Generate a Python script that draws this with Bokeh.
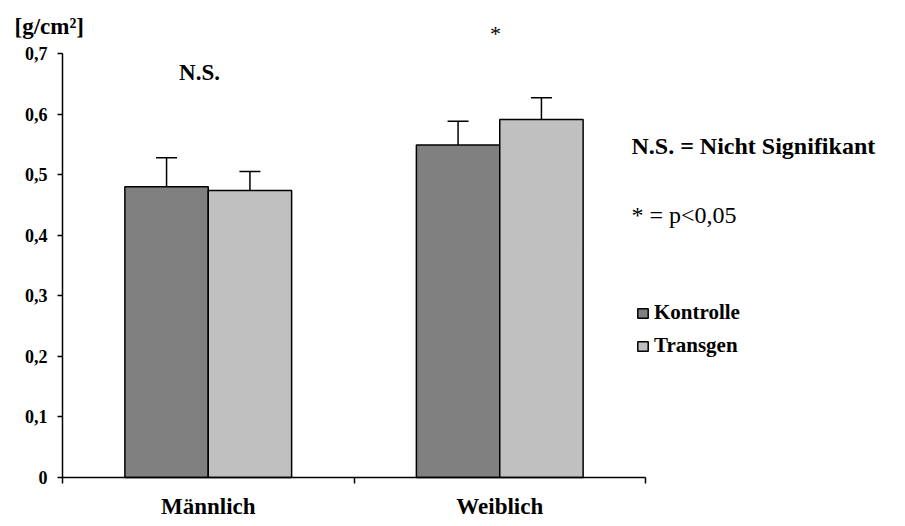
import numpy as np
from bokeh.plotting import figure
from bokeh.models import (ColumnDataSource, Range1d, FixedTicker, Whisker, TeeHead,
                          Label, Legend, LegendItem)
from bokeh.embed import file_html
from bokeh.resources import INLINE

# ---- data ----
categories = ["Männlich", "Weiblich"]
series_names = ["Kontrolle", "Transgen"]
kontrolle = [0.480, 0.549]
transgen = [0.474, 0.591]
kontrolle_err = [0.048, 0.039]
transgen_err = [0.031, 0.036]
y_ticks = [0, 0.1, 0.2, 0.3, 0.4, 0.5, 0.6, 0.7]
y_tick_labels = ["0", "0,1", "0,2", "0,3", "0,4", "0,5", "0,6", "0,7"]
group_marks = ["N.S.", "*"]

FONT = "Liberation Serif"
W, H = 900, 524
LEFT = 62        # pixel position of the value axis
AXIS_Y = 477     # pixel position of the category axis
PX_X = 291.5     # pixels per category unit
PX_Y = 605.7     # pixels per value unit

x_start = -0.5 - LEFT / PX_X
x_end = -0.5 + (W - LEFT) / PX_X
y_start = -(H - AXIS_Y) / PX_Y
y_end = AXIS_Y / PX_Y

p = figure(width=W, height=H, output_backend="svg", toolbar_location=None,
           x_range=Range1d(x_start, x_end), y_range=Range1d(y_start, y_end),
           min_border_left=0, min_border_right=0, min_border_top=0,
           min_border_bottom=0)
p.outline_line_color = None
p.xgrid.visible = False
p.ygrid.visible = False
p.background_fill_color = "white"
p.border_fill_color = "white"

xs = np.arange(len(categories))
bw = 0.286
off = 0.143
src = ColumnDataSource(dict(
    xk=xs - off, xt=xs + off,
    k=kontrolle, t=transgen,
    ku=np.array(kontrolle) + np.array(kontrolle_err),
    tu=np.array(transgen) + np.array(transgen_err),
))

rk = p.vbar(x="xk", top="k", bottom=0, width=bw, source=src,
            fill_color="#808080", line_color="black", line_width=1.5)
rt = p.vbar(x="xt", top="t", bottom=0, width=bw, source=src,
            fill_color="#c0c0c0", line_color="black", line_width=1.5)

for base, lo, up in (("xk", "k", "ku"), ("xt", "t", "tu")):
    w = Whisker(base=base, lower=lo, upper=up, source=src, line_color="black",
                line_width=1.5, lower_head=None,
                upper_head=TeeHead(size=21, line_color="black", line_width=1.5))
    p.add_layout(w)

# axes
ya = p.yaxis[0]
ya.fixed_location = -0.5
ya.bounds = (0, 0.7)
ya.ticker = FixedTicker(ticks=y_ticks, minor_ticks=[])
ya.major_label_overrides = {t: l for t, l in zip(y_ticks, y_tick_labels)}
ya.major_tick_out = 5
ya.major_tick_in = 0
ya.minor_tick_line_color = None
ya.axis_line_width = 1.5
ya.major_tick_line_width = 1.5
ya.major_label_text_font = FONT
ya.major_label_text_font_style = "bold"
ya.major_label_text_font_size = "18px"
ya.major_label_standoff = 10
ya.major_label_text_color = "black"

xa = p.xaxis[0]
xa.fixed_location = 0
xa.bounds = (-0.5, 1.5)
xa.ticker = FixedTicker(ticks=list(xs), minor_ticks=[-0.5, 0.5, 1.5])
xa.major_label_overrides = {int(i): c for i, c in zip(xs, categories)}
xa.major_tick_out = 0
xa.major_tick_in = 0
xa.major_tick_line_color = None
xa.minor_tick_out = 6
xa.minor_tick_in = 0
xa.minor_tick_line_width = 1.5
xa.axis_line_width = 1.5
xa.major_label_text_font = FONT
xa.major_label_text_font_style = "bold"
xa.major_label_text_font_size = "23px"
xa.major_label_standoff = 10
xa.major_label_text_color = "black"

def dx(sx):
    return -0.5 + (sx - LEFT) / PX_X

def dy(sy):
    return (AXIS_Y - sy) / PX_Y

# annotations
p.add_layout(Label(x=dx(14), y=dy(26), text="[g/cm²]", text_font=FONT,
                   text_font_style="bold", text_font_size="23px",
                   text_baseline="middle", text_align="left", text_color="black"))
p.add_layout(Label(x=xs[0] - 0.03, y=dy(72), text=group_marks[0], text_font=FONT,
                   text_font_style="bold", text_font_size="23px",
                   text_baseline="middle", text_align="center", text_color="black"))
p.add_layout(Label(x=dx(495), y=dy(33), text=group_marks[1], text_font=FONT,
                   text_font_size="22px",
                   text_baseline="middle", text_align="center", text_color="black"))
p.add_layout(Label(x=dx(631), y=dy(145), text="N.S. = Nicht Signifikant", text_font=FONT,
                   text_font_style="bold", text_font_size="24px",
                   text_baseline="middle", text_align="left", text_color="black"))
p.add_layout(Label(x=dx(631), y=dy(214), text="* = p<0,05", text_font=FONT,
                   text_font_size="24px",
                   text_baseline="middle", text_align="left", text_color="black"))

legend = Legend(items=[LegendItem(label=series_names[0], renderers=[rk]),
                       LegendItem(label=series_names[1], renderers=[rt])],
                location=(574 + LEFT, 166), orientation="vertical",
                padding=0, margin=0, spacing=8, border_line_color=None,
                background_fill_alpha=0, glyph_width=13, glyph_height=12,
                label_height=20, label_standoff=5,
                label_text_font=FONT, label_text_font_style="bold",
                label_text_font_size="21px", label_text_color="black")
p.add_layout(legend)

open("out.html", "w").write(file_html(p, INLINE))
